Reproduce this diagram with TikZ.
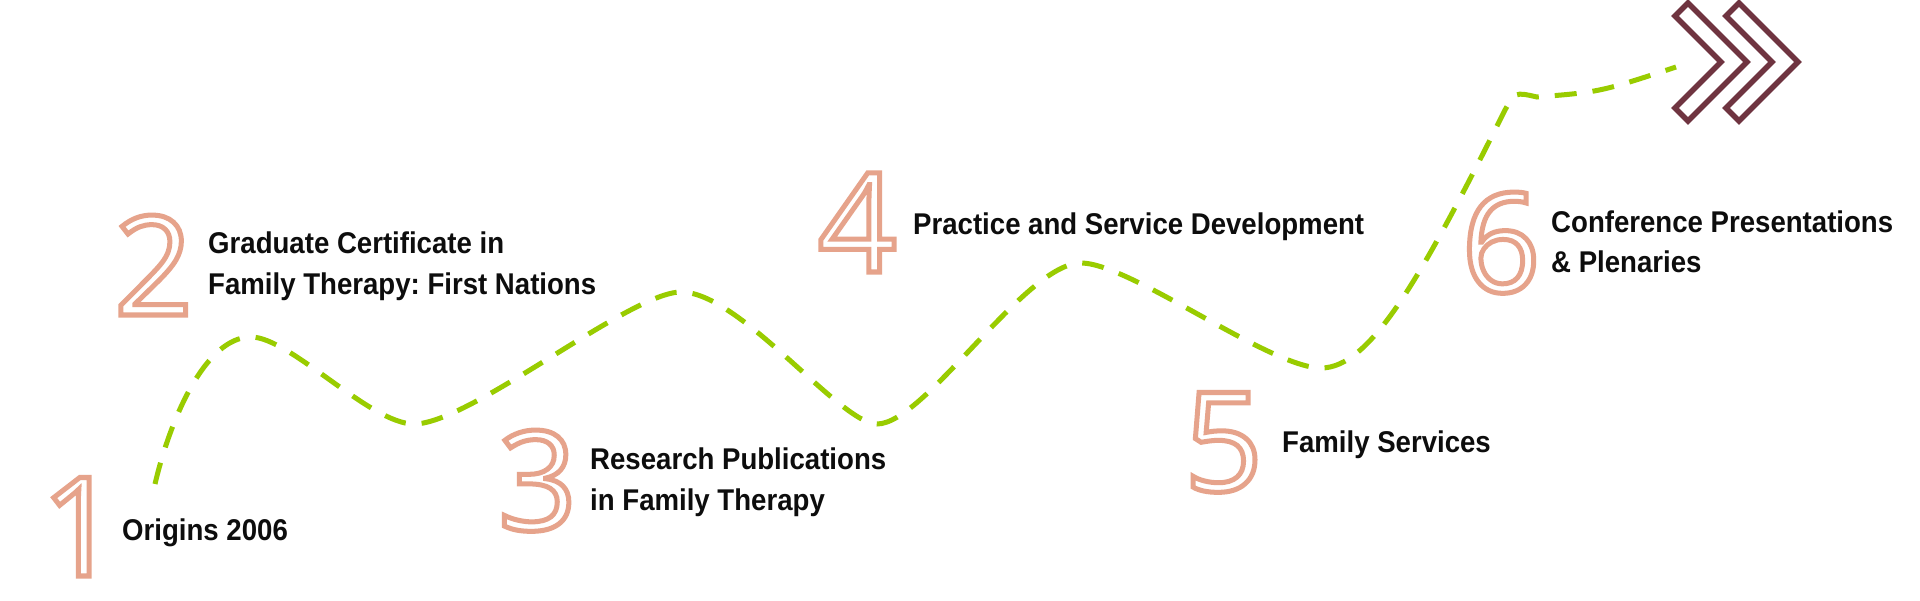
\documentclass[tikz,border=0pt]{standalone}
\usepackage{fontspec}
\setmainfont{Liberation Sans}
\newfontfamily\lblfont[FakeStretch=0.92]{Liberation Sans}
\newfontfamily\numfont{Open Sans}
\definecolor{numc}{HTML}{E6A38B}
\definecolor{pathc}{HTML}{99CC00}
\definecolor{chevc}{HTML}{6F3440}
\definecolor{txtc}{HTML}{0D0D0D}
\newcommand\hollow[1]{\special{pdf:code 1 Tr 5 w}#1\special{pdf:code 0 Tr}}
\frenchspacing
\tikzset{
  lbl/.style={anchor=base west, inner sep=0pt, font=\lblfont\fontsize{30}{41}\bfseries\selectfont, text=txtc},
  digit/.style={anchor=base, inner sep=0pt, font=\numfont\fontsize{138}{138}\selectfont, text=numc},
  trail/.style={draw=pathc, line width=5pt, dash pattern=on 22pt off 16pt},
  chev/.style={draw=chevc, line width=5.5pt, fill=white, line join=miter}
}
\begin{document}
\begin{tikzpicture}[x=1pt, y=-1pt]
\useasboundingbox (0,0) rectangle (1920,600);
\fill[white] (0,0) rectangle (1920,600);
% trail path
\coordinate (p0) at (155,484);
\coordinate (pA) at (251,337);
\coordinate (pB) at (414,424);
\coordinate (pC) at (681,292);
\coordinate (pD) at (877,424);
\coordinate (pE) at (1081,263);
\coordinate (pF) at (1321,368);
\coordinate (pG) at (1505,110);
\coordinate (pG2) at (1537,97);
\coordinate (pH) at (1676,67);
\draw[trail] (p0) .. controls (170,420) and (205,337) .. (pA)
  .. controls (290,337) and (370,424) .. (pB)
  .. controls (470,424) and (630,292) .. (pC)
  .. controls (740,292) and (840,424) .. (pD)
  .. controls (925,424) and (1025,263) .. (pE)
  .. controls (1130,263) and (1270,368) .. (pF)
  .. controls (1370,368) and (1420,280) .. (pG)
  .. controls (1515,92) .. (pG2)
  .. controls (1600,92) .. (pH);
% chevrons
\draw[chev] (1675,16) -- (1688,3) -- (1747,62) -- (1688,121) -- (1675,108) -- (1721,62) -- cycle;
\draw[chev] (1726,16) -- (1739,3) -- (1798,62) -- (1739,121) -- (1726,108) -- (1772,62) -- cycle;
% labels
\node[lbl] (t1) at (122,540) {Origins 2006};
\node[lbl] (t2a) at (208,253) {Graduate Certificate in};
\node[lbl] (t2b) at (208,294) {Family Therapy: First Nations};
\node[lbl] (t3a) at (590,469) {Research Publications};
\node[lbl] (t3b) at (590,510) {in Family Therapy};
\node[lbl] (t4) at (913,234) {Practice and Service Development};
\node[lbl] (t5) at (1282,452) {Family Services};
\node[lbl] (t6a) at (1551,232) {Conference Presentations};
\node[lbl] (t6b) at (1551,272) {\&\ Plenaries};
% digits
\node[digit] (d1) at (80.5,576) {\hollow{1}};
\node[digit] (d2) at (153.5,315) {\hollow{2}};
\node[digit] (d3) at (537.5,530) {\hollow{3}};
\node[digit] (d4) at (857.5,272) {\hollow{4}};
\node[digit] (d5) at (1223.5,491) {\hollow{5}};
\node[digit] (d6) at (1501,292) {\hollow{6}};
\end{tikzpicture}
\end{document}
